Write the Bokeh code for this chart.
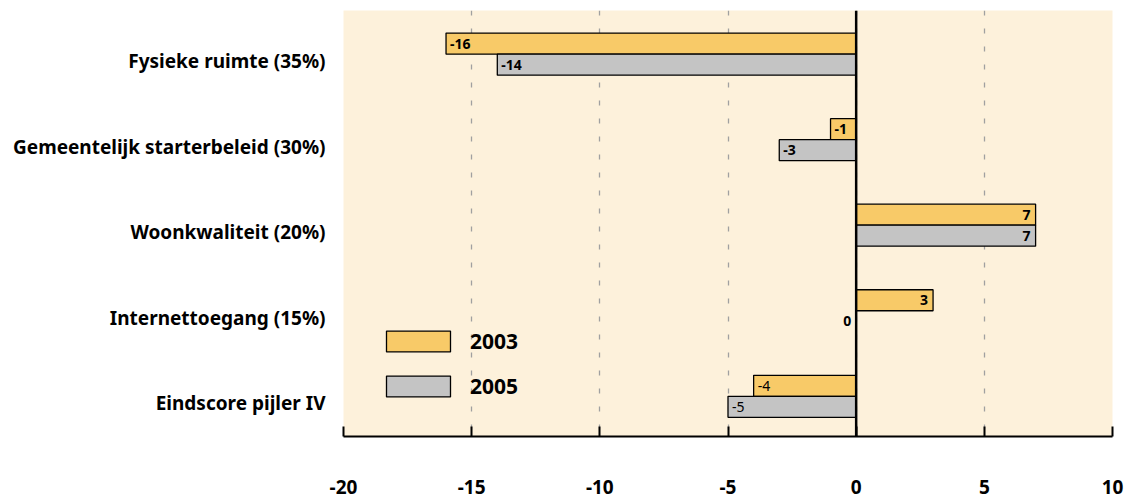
from bokeh.plotting import figure
from bokeh.models import (ColumnDataSource, Range1d, FixedTicker, Span, Legend, LegendItem)
from bokeh.core.properties import value
from bokeh.embed import file_html
from bokeh.resources import INLINE

categories = ["Fysieke ruimte (35%)", "Gemeentelijk starterbeleid (30%)",
              "Woonkwaliteit (20%)", "Internettoegang (15%)", "Eindscore pijler IV"]
values_2003 = [-16, -1, 7, 3, -4]
values_2005 = [-14, -3, 7, 0, -5]
series_names = ["2003", "2005"]
x_ticks = [-20, -15, -10, -5, 0, 5, 10]

FONT = "Noto Sans"
C2003 = "#f8ca68"
C2005 = "#c4c4c4"
BG = "#fdf1db"

p = figure(frame_width=769, frame_height=426, min_border_left=343, min_border_right=15,
           min_border_top=10, min_border_bottom=65, output_backend="svg",
           toolbar_location=None, x_range=Range1d(-20, 10), y_range=Range1d(4.47, -0.51))
p.background_fill_color = BG
p.border_fill_color = "white"
p.outline_line_color = None

bh = 21 / 85.5
n = len(categories)
idx = list(range(n))

renderers = []
for k, (vals, col) in enumerate([(values_2003, C2003), (values_2005, C2005)]):
    off = (-0.5 + k) * bh
    ys = [i + off for i in idx]
    src = ColumnDataSource(dict(
        y=ys, v=vals, z=[0] * n,
        lbl=[str(v) for v in vals],
        align=["left" if v < 0 else "right" for v in vals],
        xo=[4 if v < 0 else -5 for v in vals],
        fs=["normal" if i == n - 1 else "bold" for i in idx],
    ))
    r = p.hbar(y="y", left="z", right="v", height=bh, source=src,
               fill_color=col, line_color="black", line_width=1.3)
    renderers.append(r)
    p.text(x="v", y="y", text="lbl", source=src, text_align="align",
           x_offset="xo", text_baseline="middle", text_font=value(FONT),
           text_font_size="14px", text_font_style="fs", text_color="black")

p.add_layout(Span(location=0, dimension="height", line_color="black", line_width=2.5))

# x axis
p.xaxis.ticker = FixedTicker(ticks=x_ticks)
p.xaxis.major_label_overrides = {t: str(t) for t in x_ticks}
p.xaxis.axis_line_color = "black"
p.xaxis.axis_line_width = 2
p.xaxis.major_tick_in = 10
p.xaxis.major_tick_out = 0
p.xaxis.major_tick_line_width = 2
p.xaxis.major_tick_line_color = "black"
p.xaxis.minor_tick_line_color = None
p.xaxis.major_label_standoff = 43
p.xaxis.major_label_text_font = FONT
p.xaxis.major_label_text_font_size = "19px"
p.xaxis.major_label_text_font_style = "bold"
p.xaxis.major_label_text_color = "black"

# y axis
lab_off = 7 / 85.5
ypos = [i + lab_off for i in idx]
p.yaxis.ticker = FixedTicker(ticks=ypos)
p.yaxis.major_label_overrides = {y: c for y, c in zip(ypos, categories)}
p.yaxis.axis_line_color = None
p.yaxis.major_tick_line_color = None
p.yaxis.minor_tick_line_color = None
p.yaxis.major_label_standoff = 12
p.yaxis.major_label_text_font = FONT
p.yaxis.major_label_text_font_size = "19px"
p.yaxis.major_label_text_font_style = "bold"
p.yaxis.major_label_text_color = "black"

# grid
p.ygrid.grid_line_color = None
p.xgrid.ticker = FixedTicker(ticks=x_ticks)
p.xgrid.grid_line_color = "#a0a0a0"
p.xgrid.grid_line_dash = "5 13"
p.xgrid.grid_line_width = 1.3

legend = Legend(items=[LegendItem(label=series_names[0], renderers=[renderers[0]]),
                       LegendItem(label=series_names[1], renderers=[renderers[1]])],
                location=(35, 36), orientation="vertical")
legend.glyph_width = 80
legend.glyph_height = 26
legend.label_height = 26
legend.spacing = 17
legend.padding = 0
legend.margin = 0
legend.label_standoff = 12
legend.border_line_color = None
legend.background_fill_alpha = 0
legend.label_text_font = FONT
legend.label_text_font_size = "21px"
legend.label_text_font_style = "bold"
legend.label_text_color = "black"
p.add_layout(legend)

open("out.html", "w").write(file_html(p, INLINE))
